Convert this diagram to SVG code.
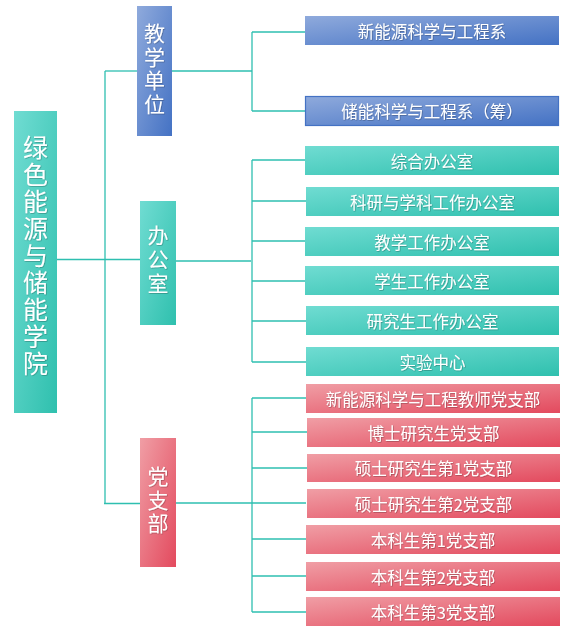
<svg xmlns="http://www.w3.org/2000/svg" width="576" height="637" viewBox="0 0 576 637">
<defs>
<linearGradient id="gTeal" x1="0" y1="0" x2="1" y2="1">
<stop offset="0" stop-color="#70dcd2"/><stop offset="1" stop-color="#2fc0ae"/>
</linearGradient>
<linearGradient id="gBlue" x1="0" y1="0" x2="1" y2="1">
<stop offset="0" stop-color="#8faadc"/><stop offset="1" stop-color="#4472c4"/>
</linearGradient>
<linearGradient id="gPink" x1="0" y1="0" x2="1" y2="1">
<stop offset="0" stop-color="#f09ea5"/><stop offset="1" stop-color="#e34a5e"/>
</linearGradient>
<filter id="ts" x="-20%" y="-20%" width="140%" height="140%">
<feDropShadow dx="0.6" dy="0.6" stdDeviation="0.4" flood-color="#000" flood-opacity="0.35"/>
</filter>
</defs>
<style>
text{font-family:"Noto Sans CJK SC","Microsoft YaHei",sans-serif;fill:#fff;filter:url(#ts)}
.leaf{font-size:16.5px;text-anchor:middle;dominant-baseline:central}
.vt{writing-mode:vertical-rl;text-anchor:start}
.teal{fill:url(#gTeal)}
.blue{fill:url(#gBlue)}
.pink{fill:url(#gPink)}
.conn{stroke:#2ebfb0;stroke-width:1.3;fill:none}
</style>
<g id="connectors" class="conn">
<path d="M57 259.5H140"/>
<path d="M105 71V503.5"/>
<path d="M105 71H137"/>
<path d="M104 503.5H140"/>
<path d="M172 71H252"/>
<path d="M252 32V111"/>
<path d="M252 32H305"/>
<path d="M252 111H305"/>
<path d="M176 261H251"/>
<path d="M252 160V362"/>
<path d="M252 160H305"/>
<path d="M252 201H306"/>
<path d="M252 241H305"/>
<path d="M252 281H305"/>
<path d="M252 321H306"/>
<path d="M252 362H306"/>
<path d="M176 503H306"/>
<path d="M252 398V612"/>
<path d="M252 398H306"/>
<path d="M252 432H307"/>
<path d="M252 468H307"/>
<path d="M252 539H306"/>
<path d="M252 576H306"/>
<path d="M252 612H306"/>
</g>
<g id="root">
<rect class="teal" x="14" y="111" width="43" height="302"/>
<text class="vt" x="35.5" y="135" font-size="25" letter-spacing="2">绿色能源与储能学院</text>
</g>
<g id="teaching">
<rect class="blue" x="137" y="6" width="35" height="130"/>
<text class="vt" x="154.5" y="23" font-size="21" letter-spacing="2.5">教学单位</text>
</g>
<g id="office">
<rect class="teal" x="140" y="201" width="36" height="124"/>
<text class="vt" x="158" y="225" font-size="21" letter-spacing="3">办公室</text>
</g>
<g id="party">
<rect class="pink" x="140" y="438" width="36" height="129"/>
<text class="vt" x="158" y="466" font-size="21" letter-spacing="2.5">党支部</text>
</g>
<g id="dept1"><rect class="blue" x="305" y="16" width="254" height="29"/><text class="leaf" x="432" y="30.5">新能源科学与工程系</text></g>
<g id="dept2"><rect class="blue" x="305.5" y="96.5" width="253" height="29" stroke="#4472c4" stroke-width="1.2"/><text class="leaf" x="432" y="111">储能科学与工程系（筹）</text></g>
<g id="off1"><rect class="teal" x="305" y="146" width="254" height="29"/><text class="leaf" x="432" y="160.5">综合办公室</text></g>
<g id="off2"><rect class="teal" x="306" y="187" width="253" height="29"/><text class="leaf" x="432.5" y="201.5">科研与学科工作办公室</text></g>
<g id="off3"><rect class="teal" x="305" y="227" width="254" height="29"/><text class="leaf" x="432" y="241.5">教学工作办公室</text></g>
<g id="off4"><rect class="teal" x="305" y="266" width="254" height="29"/><text class="leaf" x="432" y="280.5">学生工作办公室</text></g>
<g id="off5"><rect class="teal" x="306" y="306" width="253" height="29"/><text class="leaf" x="432.5" y="320.5">研究生工作办公室</text></g>
<g id="off6"><rect class="teal" x="306" y="347" width="253" height="29"/><text class="leaf" x="432.5" y="361.5">实验中心</text></g>
<g id="pty1"><rect class="pink" x="306" y="384" width="254" height="29"/><text class="leaf" x="433" y="398.5">新能源科学与工程教师党支部</text></g>
<g id="pty2"><rect class="pink" x="307" y="418" width="253" height="29"/><text class="leaf" x="433.5" y="432.5">博士研究生党支部</text></g>
<g id="pty3"><rect class="pink" x="307" y="454" width="253" height="28"/><text class="leaf" x="433.5" y="468">硕士研究生第1党支部</text></g>
<g id="pty4"><rect class="pink" x="307" y="489" width="253" height="29"/><text class="leaf" x="433.5" y="503.5">硕士研究生第2党支部</text></g>
<g id="pty5"><rect class="pink" x="306" y="525" width="254" height="29"/><text class="leaf" x="433" y="539.5">本科生第1党支部</text></g>
<g id="pty6"><rect class="pink" x="306" y="562" width="254" height="29"/><text class="leaf" x="433" y="576.5">本科生第2党支部</text></g>
<g id="pty7"><rect class="pink" x="306" y="597" width="254" height="29"/><text class="leaf" x="433" y="611.5">本科生第3党支部</text></g>
</svg>
